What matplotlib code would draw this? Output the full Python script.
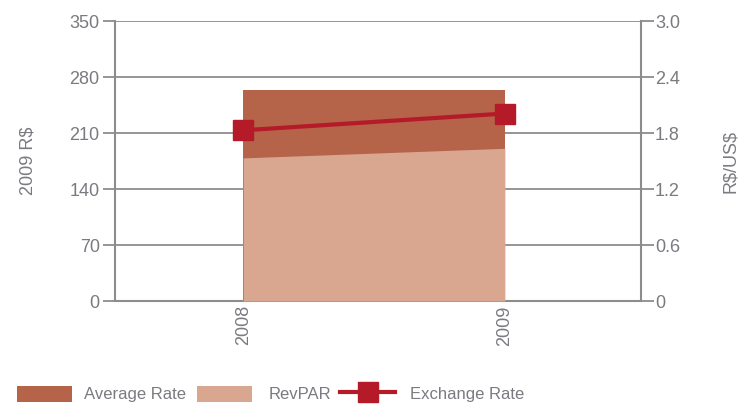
import matplotlib
matplotlib.use("Agg")
import matplotlib.pyplot as plt
from matplotlib.patches import Patch
from matplotlib.lines import Line2D
from matplotlib import font_manager

years = ["2008", "2009"]
average_rate = [264, 264]
revpar = [179, 191]
exchange_rate = [1.83, 2.01]

left_ticks = [0, 70, 140, 210, 280, 350]
right_ticks = [0, 0.6, 1.2, 1.8, 2.4, 3.0]
right_tick_labels = ["0", "0.6", "1.2", "1.8", "2.4", "3.0"]
series_labels = ["Average Rate", "RevPAR", "Exchange Rate"]

names = {f.name for f in font_manager.fontManager.ttflist}
fam = "Liberation Sans Narrow" if "Liberation Sans Narrow" in names else "Liberation Sans"
plt.rcParams["font.family"] = [fam, "DejaVu Sans"]

text_gray = "#7a7a80"
grid_gray = "#8c8c8c"
c_avg = "#b5644a"
c_rev = "#d9a690"
c_ex = "#b41a28"

fig = plt.figure(figsize=(7.51, 4.07), dpi=100)
ax = fig.add_axes([0.153, 0.2604, 0.7005, 0.6876])
x = list(range(len(years)))

ax.fill_between(x, 0, average_rate, color=c_avg, linewidth=0, zorder=2)
ax.fill_between(x, 0, revpar, color=c_rev, linewidth=0, zorder=3)

ax.set_xlim(-0.49, 1.52)
ax.set_ylim(0, 350)
ax.set_yticks(left_ticks)
ax.set_yticklabels([str(t) for t in left_ticks])
ax.set_xticks(x)
ax.set_xticklabels(years, rotation=90)
ax.grid(axis="y", color=grid_gray, linewidth=1.3, zorder=1)
ax.set_axisbelow(True)
for s in ["left", "bottom"]:
    ax.spines[s].set_color(grid_gray)
    ax.spines[s].set_linewidth(1.5)
for s in ["top", "right"]:
    ax.spines[s].set_visible(False)
ax.tick_params(axis="y", colors=grid_gray, labelcolor=text_gray, labelsize=13,
               length=9, width=1.3, pad=2)
ax.tick_params(axis="x", length=0, labelcolor=text_gray, labelsize=13, pad=3)
ax.set_ylabel("2009 R\\$", color=text_gray, fontsize=13, labelpad=24)

ax2 = ax.twinx()
ax2.plot(x, exchange_rate, color=c_ex, linewidth=3, marker="s", markersize=14,
         zorder=5, clip_on=False)
ax2.set_ylim(0, 3.0)
ax2.set_yticks(right_ticks)
ax2.set_yticklabels(right_tick_labels)
for s in ["left", "bottom", "top"]:
    ax2.spines[s].set_visible(False)
ax2.spines["right"].set_color(grid_gray)
ax2.spines["right"].set_linewidth(1.5)
ax2.tick_params(axis="y", colors=grid_gray, labelcolor=text_gray, labelsize=13,
                length=9, width=1.3, pad=1)
ax2.set_ylabel("R\\$/US\\$", color=text_gray, fontsize=13, labelpad=30)

handles = [
    Patch(facecolor=c_avg, edgecolor="none"),
    Patch(facecolor=c_rev, edgecolor="none"),
    Line2D([0], [0], color=c_ex, linewidth=3, marker="s", markersize=14),
]
xpos = [17 / 751, 197 / 751, 340 / 751]
pads = [0.75, 1.0, 0.9]
for h, lab, xp, pd in zip(handles, series_labels, xpos, pads):
    lg = fig.legend([h], [lab], loc="center left", bbox_to_anchor=(xp, 0.032),
                    frameon=False, fontsize=12, handlelength=3.3,
                    handleheight=1.15, handletextpad=pd,
                    labelcolor=text_gray, borderpad=0, borderaxespad=0)

fig.savefig("out.png", dpi=100)
